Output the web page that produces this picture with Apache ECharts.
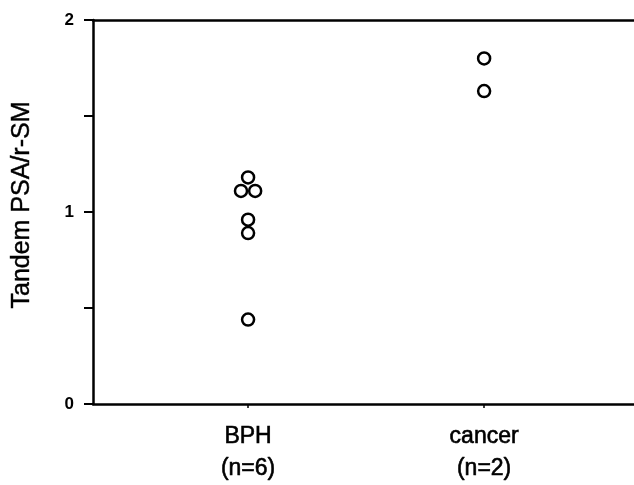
<!DOCTYPE html>
<html><head><meta charset="utf-8">
<script src="https://cdn.jsdelivr.net/npm/echarts@6/dist/echarts.min.js"></script>
<style>html,body{margin:0;padding:0;background:#fff}#c{width:634px;height:485px}</style>
</head><body><div id="c"></div>
<script>
const categories = ['BPH', 'cancer'];
const groupSizes = ['(n=6)', '(n=2)'];
const bphValues = [1.18, 1.11, 1.11, 0.96, 0.89, 0.44];
const bphOffsets = [0, -0.03, 0.03, 0, 0, 0];
const cancerValues = [1.80, 1.63];
const cancerOffsets = [0, 0];
const yTicks = [0, 1, 2];

const bphData = bphValues.map((v, i) => [1 + bphOffsets[i], v]);
const cancerData = cancerValues.map((v, i) => [2 + cancerOffsets[i], v]);

const chart = echarts.init(document.getElementById('c'), null, {renderer: 'canvas'});
chart.setOption({
  animation: false,
  backgroundColor: '#fff',
  grid: {left: 93, right: 0, top: 20, bottom: 81, containLabel: false, outerBoundsMode: 'none'},
  xAxis: [{
    type: 'value', min: 0.343, max: 2.635, position: 'bottom',
    splitLine: {show: false},
    axisLine: {show: true, lineStyle: {color: '#000', width: 2.5}},
    axisTick: {show: true, customValues: [1, 2], length: 4, inside: false, lineStyle: {color: '#000', width: 1.5}},
    axisLabel: {
      customValues: [1, 2], margin: 17, color: '#000',
      textBorderColor: '#000', textBorderWidth: 0.6,
      fontFamily: 'Liberation Sans, Arial, sans-serif', fontSize: 23, lineHeight: 32,
      formatter: v => { const i = Math.round(v) - 1; return categories[i] + '\n' + groupSizes[i]; }
    }
  }, {
    type: 'value', min: 0.343, max: 2.635, position: 'top',
    splitLine: {show: false},
    axisLine: {show: true, lineStyle: {color: '#000', width: 2.5}},
    axisTick: {show: false}, axisLabel: {show: false}
  }],
  yAxis: {
    type: 'value', min: 0, max: 2, interval: 0.5,
    name: 'Tandem PSA/r-SM', nameLocation: 'middle', nameGap: 58, nameRotate: 90,
    nameTextStyle: {color: '#000', fontFamily: 'Liberation Sans, Arial, sans-serif', fontSize: 25,
      textBorderColor: '#000', textBorderWidth: 0.4, padding: [0, 0, 0, 14]},
    splitLine: {show: false},
    axisLine: {show: true, lineStyle: {color: '#000', width: 2.5}},
    axisTick: {show: true, length: 9, inside: false, lineStyle: {color: '#000', width: 2}},
    axisLabel: {
      margin: 19, color: '#000', fontWeight: 'bold',
      fontFamily: 'Liberation Sans, Arial, sans-serif', fontSize: 17,
      formatter: v => yTicks.includes(v) ? String(v) : ''
    }
  },
  series: [{
    type: 'scatter', data: bphData, symbol: 'circle', symbolSize: 12,
    itemStyle: {color: '#fff', borderColor: '#000', borderWidth: 2.5, opacity: 1}
  }, {
    type: 'scatter', data: cancerData, symbol: 'circle', symbolSize: 12,
    itemStyle: {color: '#fff', borderColor: '#000', borderWidth: 2.5, opacity: 1}
  }]
});
</script></body></html>
